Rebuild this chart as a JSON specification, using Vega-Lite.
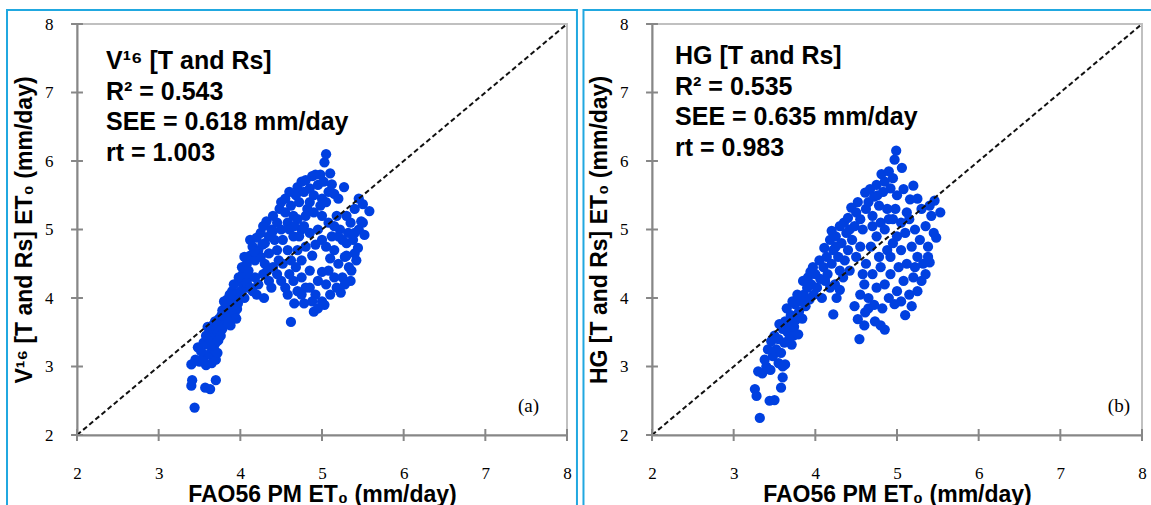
{
"$schema": "https://vega.github.io/schema/vega-lite/v6.json",
"padding": {"left": 5, "top": 8, "right": 0, "bottom": 0},
"background": "white",
"spacing": 85,
"bounds": "flush",
"datasets": {
"one": [{}],
"ticks": [{"t": 2}, {"t": 3}, {"t": 4}, {"t": 5}, {"t": 6}, {"t": 7}, {"t": 8}],
"diag": [{"x": 2, "y": 2}, {"x": 8, "y": 8}],
"a": [
{"x":3.44,"y":2.40},{"x":3.40,"y":2.72},{"x":3.41,"y":2.80},{"x":3.57,"y":2.69},{"x":3.63,"y":2.67},{"x":3.70,"y":2.80},{"x":3.40,"y":3.03},{"x":3.45,"y":3.10},{"x":3.50,"y":3.07},{"x":3.55,"y":3.12},{"x":3.58,"y":3.02},{"x":3.62,"y":3.18},{"x":3.52,"y":3.22},{"x":3.65,"y":3.05},{"x":3.70,"y":3.10},{"x":3.68,"y":3.25},{"x":3.60,"y":3.32},{"x":3.72,"y":3.20},{"x":3.55,"y":3.35},
{"x":3.62,"y":3.40},{"x":3.65,"y":3.48},{"x":3.68,"y":3.42},{"x":3.70,"y":3.55},{"x":3.72,"y":3.50},{"x":3.66,"y":3.60},{"x":3.75,"y":3.62},{"x":3.78,"y":3.55},{"x":3.74,"y":3.70},{"x":3.80,"y":3.68},{"x":3.82,"y":3.75},{"x":3.78,"y":3.82},{"x":3.85,"y":3.80},{"x":3.86,"y":3.90},{"x":3.88,"y":3.72},{"x":3.90,"y":3.85},{"x":3.84,"y":3.98},{"x":3.92,"y":3.95},{"x":3.95,"y":4.05},{"x":3.97,"y":3.92},{"x":3.90,"y":4.10},{"x":4.00,"y":4.10},{"x":4.02,"y":4.22},{"x":3.98,"y":4.30},{"x":4.05,"y":4.00},{"x":3.70,"y":3.35},{"x":3.76,"y":3.45},{"x":3.80,"y":3.60},{"x":3.88,"y":3.60},{"x":3.93,"y":3.78},{"x":3.96,"y":3.84},{"x":3.82,"y":3.88},{"x":3.87,"y":4.05},{"x":4.03,"y":4.35},{"x":4.08,"y":4.15},{"x":4.10,"y":4.30},{"x":3.64,"y":3.30},{"x":3.73,"y":3.38},{"x":3.69,"y":3.66},{"x":3.77,"y":3.75},{"x":3.58,"y":3.45},{"x":3.48,"y":3.28},{"x":3.92,"y":4.20},{"x":3.85,"y":3.62},{"x":3.95,"y":3.70},{"x":3.60,"y":3.58},{"x":3.80,"y":3.95},
{"x":4.02,"y":4.45},{"x":4.05,"y":4.60},{"x":4.08,"y":4.50},{"x":4.10,"y":4.40},{"x":4.12,"y":4.62},{"x":4.15,"y":4.75},{"x":4.12,"y":4.85},{"x":4.18,"y":4.55},{"x":4.20,"y":4.88},{"x":4.22,"y":4.70},{"x":4.25,"y":4.95},{"x":4.25,"y":4.60},{"x":4.28,"y":5.05},{"x":4.30,"y":4.80},{"x":4.32,"y":5.12},{"x":4.35,"y":4.90},{"x":4.30,"y":4.50},{"x":4.35,"y":4.65},{"x":4.38,"y":5.00},{"x":4.40,"y":5.20},{"x":4.42,"y":4.85},{"x":4.45,"y":5.10},{"x":4.45,"y":4.70},{"x":4.48,"y":5.30},{"x":4.50,"y":5.00},{"x":4.50,"y":5.40},{"x":4.18,"y":4.30},{"x":4.22,"y":4.20},{"x":4.15,"y":4.10},{"x":4.28,"y":4.35},{"x":4.35,"y":4.25},{"x":4.40,"y":4.45},{"x":4.20,"y":4.05},{"x":4.29,"y":4.00},{"x":4.38,"y":4.15},{"x":4.08,"y":4.22},{"x":4.12,"y":4.15},{"x":4.27,"y":4.78},{"x":4.40,"y":4.98},{"x":4.33,"y":4.40},{"x":4.17,"y":4.68},
{"x":4.55,"y":5.25},{"x":4.55,"y":5.45},{"x":4.58,"y":5.10},{"x":4.60,"y":5.55},{"x":4.62,"y":5.35},{"x":4.65,"y":5.20},{"x":4.68,"y":5.50},{"x":4.70,"y":5.62},{"x":4.72,"y":5.40},{"x":4.75,"y":5.70},{"x":4.78,"y":5.55},{"x":4.80,"y":5.72},{"x":4.82,"y":5.30},{"x":4.85,"y":5.60},{"x":4.88,"y":5.78},{"x":4.90,"y":5.50},{"x":4.92,"y":5.80},{"x":4.95,"y":5.65},{"x":4.98,"y":5.80},{"x":5.00,"y":5.45},{"x":5.03,"y":5.98},{"x":5.05,"y":6.10},{"x":5.02,"y":5.70},{"x":5.10,"y":5.82},{"x":5.08,"y":5.55},{"x":4.60,"y":5.00},{"x":4.65,"y":4.90},{"x":4.70,"y":5.15},{"x":4.75,"y":5.00},{"x":4.80,"y":5.20},{"x":4.52,"y":4.85},{"x":4.58,"y":4.70},{"x":4.66,"y":5.05},{"x":4.85,"y":5.40},
{"x":4.62,"y":3.65},{"x":4.66,"y":3.92},{"x":4.58,"y":4.05},{"x":4.70,"y":4.10},{"x":4.75,"y":4.30},{"x":4.78,"y":3.92},{"x":4.80,"y":4.15},{"x":4.85,"y":4.40},{"x":4.90,"y":3.80},{"x":4.92,"y":4.05},{"x":4.95,"y":4.25},{"x":5.00,"y":3.95},{"x":5.03,"y":3.90},{"x":5.05,"y":4.20},{"x":5.08,"y":4.40},{"x":5.10,"y":4.05},{"x":5.15,"y":4.30},{"x":5.20,"y":4.50},{"x":5.23,"y":4.08},{"x":5.25,"y":4.30},{"x":5.28,"y":4.60},{"x":5.30,"y":4.80},{"x":5.33,"y":4.45},{"x":5.36,"y":4.40},{"x":5.40,"y":4.65},{"x":5.44,"y":4.73},{"x":5.45,"y":5.00},{"x":5.48,"y":5.12},{"x":5.52,"y":4.92},{"x":5.50,"y":5.37},{"x":5.58,"y":5.27},{"x":5.40,"y":5.30},{"x":5.35,"y":5.10},{"x":5.30,"y":5.20},{"x":5.27,"y":5.62},{"x":5.20,"y":5.45},{"x":5.15,"y":5.52},{"x":5.12,"y":5.66},{"x":5.18,"y":5.20},{"x":5.22,"y":5.00},{"x":5.12,"y":4.90},{"x":5.08,"y":5.10},{"x":5.05,"y":4.75},{"x":5.00,"y":4.85},{"x":5.00,"y":5.20},{"x":4.95,"y":5.00},{"x":4.92,"y":4.78},{"x":4.88,"y":4.62},{"x":4.85,"y":4.95},{"x":4.80,"y":4.75},{"x":4.75,"y":4.55},{"x":4.70,"y":4.70},{"x":4.68,"y":4.45},{"x":4.65,"y":4.25},{"x":4.62,"y":4.55},{"x":4.52,"y":4.50},{"x":4.50,"y":4.25},{"x":4.47,"y":4.55},{"x":4.45,"y":4.35},{"x":4.55,"y":4.15},{"x":4.72,"y":4.90},{"x":4.78,"y":5.05},{"x":4.90,"y":5.25},{"x":4.98,"y":5.35},{"x":5.05,"y":5.40},{"x":5.15,"y":4.70},{"x":5.25,"y":4.85},{"x":5.32,"y":4.95},{"x":5.38,"y":4.85},{"x":5.42,"y":4.55},{"x":5.35,"y":4.25},{"x":5.28,"y":4.20},{"x":5.18,"y":4.15},{"x":5.10,"y":4.58},{"x":5.00,"y":4.38},{"x":4.85,"y":4.15},{"x":4.95,"y":3.85},{"x":4.88,"y":3.95},{"x":5.45,"y":5.45},{"x":5.50,"y":5.10},{"x":5.20,"y":4.90},{"x":5.30,"y":4.62},{"x":4.75,"y":4.05},{"x":4.60,"y":4.35},{"x":5.15,"y":5.05},{"x":5.40,"y":4.95}
],
"b": [
{"x":3.32,"y":2.25},{"x":3.28,"y":2.57},{"x":3.26,"y":2.67},{"x":3.44,"y":2.50},{"x":3.50,"y":2.51},{"x":3.58,"y":2.69},{"x":3.60,"y":2.84},{"x":3.30,"y":2.93},{"x":3.35,"y":2.90},{"x":3.40,"y":3.00},{"x":3.45,"y":2.95},{"x":3.38,"y":3.10},{"x":3.48,"y":3.15},{"x":3.55,"y":3.05},{"x":3.60,"y":3.00},{"x":3.52,"y":3.25},{"x":3.42,"y":3.25},{"x":3.46,"y":3.37},{"x":3.58,"y":3.20},{"x":3.63,"y":3.03},{"x":3.55,"y":3.40},{"x":3.62,"y":3.35},{"x":3.50,"y":3.45},
{"x":3.60,"y":3.55},{"x":3.63,"y":3.66},{"x":3.66,"y":3.50},{"x":3.68,"y":3.62},{"x":3.70,"y":3.75},{"x":3.71,"y":3.32},{"x":3.73,"y":3.45},{"x":3.75,"y":3.91},{"x":3.76,"y":3.68},{"x":3.79,"y":3.47},{"x":3.80,"y":3.80},{"x":3.82,"y":3.95},{"x":3.84,"y":3.70},{"x":3.86,"y":4.05},{"x":3.88,"y":3.88},{"x":3.90,"y":4.15},{"x":3.91,"y":4.30},{"x":3.93,"y":3.98},{"x":3.95,"y":4.20},{"x":3.97,"y":4.45},{"x":3.98,"y":4.05},{"x":4.00,"y":4.35},{"x":4.02,"y":4.15},{"x":4.05,"y":4.55},{"x":4.06,"y":4.28},{"x":4.08,"y":4.00},{"x":3.65,"y":3.85},{"x":3.72,"y":3.95},{"x":3.78,"y":4.05},{"x":3.85,"y":4.25},{"x":3.68,"y":3.40},{"x":3.56,"y":3.62},{"x":3.74,"y":3.58},{"x":3.94,"y":4.38},
{"x":4.11,"y":4.73},{"x":4.10,"y":4.45},{"x":4.14,"y":4.60},{"x":4.15,"y":4.35},{"x":4.18,"y":4.85},{"x":4.20,"y":4.98},{"x":4.20,"y":4.50},{"x":4.22,"y":4.70},{"x":4.24,"y":4.20},{"x":4.25,"y":4.90},{"x":4.28,"y":4.60},{"x":4.30,"y":5.05},{"x":4.30,"y":4.40},{"x":4.32,"y":4.80},{"x":4.35,"y":5.10},{"x":4.36,"y":4.55},{"x":4.38,"y":4.95},{"x":4.40,"y":5.17},{"x":4.40,"y":4.70},{"x":4.42,"y":4.40},{"x":4.44,"y":5.32},{"x":4.45,"y":4.85},{"x":4.48,"y":5.05},{"x":4.50,"y":5.25},{"x":4.50,"y":4.60},{"x":4.52,"y":5.40},{"x":4.55,"y":4.75},{"x":4.55,"y":5.15},{"x":4.58,"y":5.00},{"x":4.61,"y":5.54},{"x":4.62,"y":5.30},{"x":4.26,"y":4.00},{"x":4.22,"y":3.76},{"x":4.30,"y":4.12},{"x":4.18,"y":4.15},{"x":4.12,"y":4.25},{"x":4.25,"y":4.75},{"x":4.42,"y":5.00},{"x":4.34,"y":4.30},
{"x":4.65,"y":5.40},{"x":4.67,"y":5.59},{"x":4.70,"y":5.20},{"x":4.72,"y":5.48},{"x":4.75,"y":5.65},{"x":4.78,"y":5.35},{"x":4.81,"y":5.81},{"x":4.83,"y":5.55},{"x":4.85,"y":5.70},{"x":4.88,"y":5.30},{"x":4.90,"y":5.85},{"x":4.92,"y":5.60},{"x":4.95,"y":5.75},{"x":4.97,"y":6.02},{"x":4.99,"y":6.15},{"x":5.06,"y":5.90},{"x":5.00,"y":5.50},{"x":4.98,"y":5.30},{"x":4.70,"y":5.05},{"x":4.80,"y":5.10},{"x":4.90,"y":5.15},{"x":4.76,"y":5.50},
{"x":4.54,"y":3.40},{"x":4.52,"y":3.69},{"x":4.61,"y":3.79},{"x":4.73,"y":3.66},{"x":4.85,"y":3.54},{"x":4.80,"y":3.60},{"x":4.97,"y":3.91},{"x":4.48,"y":3.88},{"x":4.55,"y":4.05},{"x":4.60,"y":4.20},{"x":4.65,"y":4.00},{"x":4.70,"y":4.35},{"x":4.72,"y":3.90},{"x":4.75,"y":4.15},{"x":4.80,"y":4.45},{"x":4.82,"y":3.85},{"x":4.85,"y":4.20},{"x":4.88,"y":4.70},{"x":4.90,"y":4.00},{"x":4.92,"y":4.35},{"x":4.95,"y":4.80},{"x":5.00,"y":4.10},{"x":5.02,"y":4.45},{"x":5.05,"y":4.70},{"x":5.08,"y":4.25},{"x":5.10,"y":4.95},{"x":5.12,"y":4.50},{"x":5.15,"y":4.05},{"x":5.18,"y":3.88},{"x":5.18,"y":4.75},{"x":5.20,"y":4.30},{"x":5.22,"y":5.00},{"x":5.25,"y":4.60},{"x":5.28,"y":4.85},{"x":5.30,"y":4.25},{"x":5.32,"y":4.50},{"x":5.35,"y":5.05},{"x":5.38,"y":4.75},{"x":5.40,"y":4.52},{"x":5.42,"y":5.20},{"x":5.45,"y":4.95},{"x":5.48,"y":4.88},{"x":5.46,"y":5.42},{"x":5.53,"y":5.25},{"x":5.40,"y":5.35},{"x":5.30,"y":5.30},{"x":5.20,"y":5.64},{"x":5.16,"y":5.44},{"x":5.08,"y":5.59},{"x":5.12,"y":5.25},{"x":5.05,"y":5.10},{"x":5.00,"y":4.90},{"x":4.95,"y":5.15},{"x":5.25,"y":5.45},{"x":5.35,"y":4.35},{"x":5.10,"y":3.75},{"x":4.62,"y":4.50},{"x":4.68,"y":4.75},{"x":4.75,"y":4.90},{"x":4.85,"y":5.00},{"x":4.58,"y":4.35},{"x":4.92,"y":4.60},{"x":5.15,"y":5.15},{"x":5.25,"y":4.10},{"x":5.38,"y":4.60},{"x":5.05,"y":3.95},{"x":4.65,"y":3.85},{"x":4.78,"y":4.60},{"x":5.22,"y":4.45},{"x":4.60,"y":3.60}
]
},
"hconcat": [
{
"width": 490, "height": 411,
"layer": [
{"data": {"name": "a"}, "mark": {"type": "circle", "color": "#0040e0", "opacity": 1, "size": 105},
 "encoding": {
  "x": {"field": "x", "type": "quantitative", "scale": {"domain": [2, 8], "nice": false, "zero": false}, "axis": {"values": [2,3,4,5,6,7,8], "format": "d", "title": "FAO56 PM ET₀ (mm/day)"}},
  "y": {"field": "y", "type": "quantitative", "scale": {"domain": [2, 8], "nice": false, "zero": false}, "axis": {"values": [2,3,4,5,6,7,8], "format": "d", "title": "V¹⁶ [T and Rs] ET₀ (mm/day)"}}
 }},
{"data": {"name": "diag"}, "mark": {"type": "line", "color": "#111111", "strokeWidth": 2, "strokeDash": [5, 3]},
 "encoding": {"x": {"field": "x", "type": "quantitative"}, "y": {"field": "y", "type": "quantitative"}}},
{"data": {"name": "ticks"}, "mark": {"type": "rule", "color": "#878787", "strokeWidth": 2},
 "encoding": {"x": {"field": "t", "type": "quantitative"}, "y": {"datum": 1.912}, "y2": {"datum": 2.088}}},
{"data": {"name": "ticks"}, "mark": {"type": "rule", "color": "#878787", "strokeWidth": 2},
 "encoding": {"y": {"field": "t", "type": "quantitative"}, "x": {"datum": 1.927}, "x2": {"datum": 2.073}}},
{"data": {"name": "one"}, "mark": {"type": "text", "font": "Liberation Sans", "fontWeight": "bold", "fontSize": 25, "align": "left", "baseline": "alphabetic", "lineHeight": 30.5, "color": "#000"},
 "encoding": {"x": {"datum": 2.355}, "y": {"datum": 7.339}, "text": {"value": ["V¹⁶ [T and Rs]", "R² = 0.543", "SEE = 0.618 mm/day", "rt = 1.003"]}}},
{"data": {"name": "one"}, "mark": {"type": "text", "font": "Liberation Serif", "fontSize": 19, "align": "right", "baseline": "alphabetic", "color": "#000"},
 "encoding": {"x": {"datum": 7.657}, "y": {"datum": 2.336}, "text": {"value": "(a)"}}},
{"data": {"name": "one"}, "mark": {"type": "rect", "filled": false, "color": "#21a8e0", "strokeWidth": 2},
 "encoding": {"x": {"datum": 1.143}, "x2": {"datum": 8.122}, "y": {"datum": 8.204}, "y2": {"datum": 0.8}}}
]
},
{
"width": 490, "height": 411,
"layer": [
{"data": {"name": "b"}, "mark": {"type": "circle", "color": "#0040e0", "opacity": 1, "size": 105},
 "encoding": {
  "x": {"field": "x", "type": "quantitative", "scale": {"domain": [2, 8], "nice": false, "zero": false}, "axis": {"values": [2,3,4,5,6,7,8], "format": "d", "title": "FAO56 PM ET₀ (mm/day)"}},
  "y": {"field": "y", "type": "quantitative", "scale": {"domain": [2, 8], "nice": false, "zero": false}, "axis": {"values": [2,3,4,5,6,7,8], "format": "d", "title": "HG [T and Rs] ET₀ (mm/day)"}}
 }},
{"data": {"name": "diag"}, "mark": {"type": "line", "color": "#111111", "strokeWidth": 2, "strokeDash": [5, 3]},
 "encoding": {"x": {"field": "x", "type": "quantitative"}, "y": {"field": "y", "type": "quantitative"}}},
{"data": {"name": "ticks"}, "mark": {"type": "rule", "color": "#878787", "strokeWidth": 2},
 "encoding": {"x": {"field": "t", "type": "quantitative"}, "y": {"datum": 1.912}, "y2": {"datum": 2.088}}},
{"data": {"name": "ticks"}, "mark": {"type": "rule", "color": "#878787", "strokeWidth": 2},
 "encoding": {"y": {"field": "t", "type": "quantitative"}, "x": {"datum": 1.927}, "x2": {"datum": 2.073}}},
{"data": {"name": "one"}, "mark": {"type": "text", "font": "Liberation Sans", "fontWeight": "bold", "fontSize": 25, "align": "left", "baseline": "alphabetic", "lineHeight": 30.5, "color": "#000"},
 "encoding": {"x": {"datum": 2.282}, "y": {"datum": 7.409}, "text": {"value": ["HG [T and Rs]", "R² = 0.535", "SEE = 0.635 mm/day", "rt = 0.983"]}}},
{"data": {"name": "one"}, "mark": {"type": "text", "font": "Liberation Serif", "fontSize": 19, "align": "right", "baseline": "alphabetic", "color": "#000"},
 "encoding": {"x": {"datum": 7.853}, "y": {"datum": 2.336}, "text": {"value": "(b)"}}},
{"data": {"name": "one"}, "mark": {"type": "rect", "filled": false, "color": "#21a8e0", "strokeWidth": 2},
 "encoding": {"x": {"datum": 1.161}, "x2": {"datum": 8.3}, "y": {"datum": 8.204}, "y2": {"datum": 0.8}}}
]
}
],
"config": {
 "view": {"stroke": "#c0c0c0", "strokeWidth": 2},
 "axis": {"grid": false, "domain": true, "domainColor": "#878787", "domainWidth": 2, "ticks": false, "labelFont": "Liberation Serif", "labelFontSize": 17, "labelColor": "#000", "labelFlush": false, "titleFont": "Liberation Sans", "titleFontSize": 23, "titleFontWeight": "bold", "titleColor": "#000"},
 "axisX": {"labelPadding": 30, "titlePadding": 2},
 "axisY": {"labelPadding": 24, "titlePadding": 8}
}
}
